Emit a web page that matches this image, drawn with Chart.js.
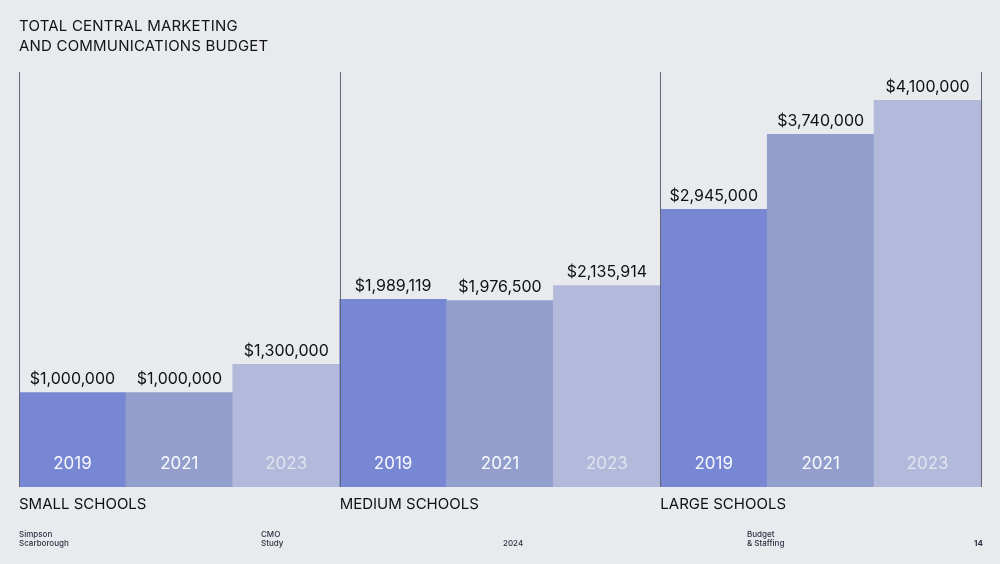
<!DOCTYPE html>
<html>
<head>
<meta charset="utf-8">
<script src="https://cdn.jsdelivr.net/npm/chart.js@4"></script>
<style>
  html, body { margin:0; padding:0; background:#e9eaee; }
  #wrap { position:relative; width:1000px; height:564px; overflow:hidden; background:#e9eaee; font-family: Inter, "Liberation Sans", sans-serif; }
  #c { position:absolute; left:0; top:0; }
  .title { position:absolute; left:19px; top:16px; font-size:15px; line-height:20px; color:#111317; letter-spacing:0.2px; }
  .ft { position:absolute; font-size:8px; line-height:9px; color:#2a3240; font-weight:500; }
</style>
</head>
<body>
<div id="wrap">
  <canvas id="c" width="1000" height="564"></canvas>
  <div class="title">TOTAL CENTRAL MARKETING<br>AND COMMUNICATIONS BUDGET</div>
  <div class="ft" style="left:19px;top:530px;">Simpson<br>Scarborough</div>
  <div class="ft" style="left:261px;top:530px;">CMO<br>Study</div>
  <div class="ft" style="left:503px;top:539px;">2024</div>
  <div class="ft" style="left:747px;top:530px;">Budget<br>&amp; Staffing</div>
  <div class="ft" style="left:974px;top:539px;font-weight:700;">14</div>
</div>
<script>
const groups = ['SMALL SCHOOLS', 'MEDIUM SCHOOLS', 'LARGE SCHOOLS'];
const years = ['2019', '2021', '2023'];
const small = [1000000, 1000000, 1300000];
const medium = [1989119, 1976500, 2135914];
const large = [2945000, 3740000, 4100000];

const yearColors = ['#7787d4', '#929fcc', '#b3b9da'];
const yearTextColors = ['rgba(255,255,255,0.95)', 'rgba(255,255,255,0.95)', 'rgba(255,255,255,0.6)'];

const values = [...small, ...medium, ...large];
const labels = [];
groups.forEach(g => years.forEach(y => labels.push(y)));
const colors = values.map((v, i) => yearColors[i % 3]);

const fmt = v => '$' + v.toLocaleString('en-US');
const FONT = 'Inter, "Liberation Sans", sans-serif';

const overlay = {
  id: 'overlay',
  afterDatasetsDraw(chart) {
    const ctx = chart.ctx;
    const meta = chart.getDatasetMeta(0);
    const area = chart.chartArea;
    ctx.save();
    meta.data.forEach((bar, i) => {
      ctx.fillStyle = '#0f1115';
      ctx.font = '16px ' + FONT;
      ctx.textAlign = 'center';
      ctx.textBaseline = 'bottom';
      ctx.fillText(fmt(values[i]), bar.x, bar.y - 5);
      ctx.fillStyle = yearTextColors[i % 3];
      ctx.font = '17px ' + FONT;
      ctx.textBaseline = 'middle';
      ctx.fillText(labels[i], bar.x, bar.base - 23);
    });
    const edges = [];
    for (let g = 0; g < groups.length; g++) {
      const b = meta.data[g * 3];
      edges.push(b.x - b.width / 2);
    }
    const last = meta.data[meta.data.length - 1];
    edges.push(last.x + last.width / 2);
    ctx.strokeStyle = '#5f6675';
    ctx.lineWidth = 1;
    edges.forEach(x => {
      const px = Math.round(x) + 0.5;
      ctx.beginPath();
      ctx.moveTo(px, area.top);
      ctx.lineTo(px, area.bottom);
      ctx.stroke();
    });
    ctx.fillStyle = '#0f1115';
    ctx.font = '15px ' + FONT;
    ctx.textAlign = 'left';
    ctx.textBaseline = 'middle';
    groups.forEach((g, gi) => {
      ctx.fillText(g, edges[gi], area.bottom + 17);
    });
    ctx.restore();
  }
};

new Chart(document.getElementById('c'), {
  type: 'bar',
  data: {
    labels: labels,
    datasets: [{
      data: values,
      backgroundColor: colors,
      borderWidth: 0,
      barPercentage: 1,
      categoryPercentage: 1
    }]
  },
  options: {
    responsive: false,
    animation: false,
    layout: { padding: { left: 19, right: 19, top: 72, bottom: 77 } },
    plugins: { legend: { display: false }, tooltip: { enabled: false }, title: { display: false } },
    scales: {
      x: { display: false },
      y: { display: false, min: 0, max: 4400000 }
    }
  },
  plugins: [overlay]
});
</script>
</body>
</html>
